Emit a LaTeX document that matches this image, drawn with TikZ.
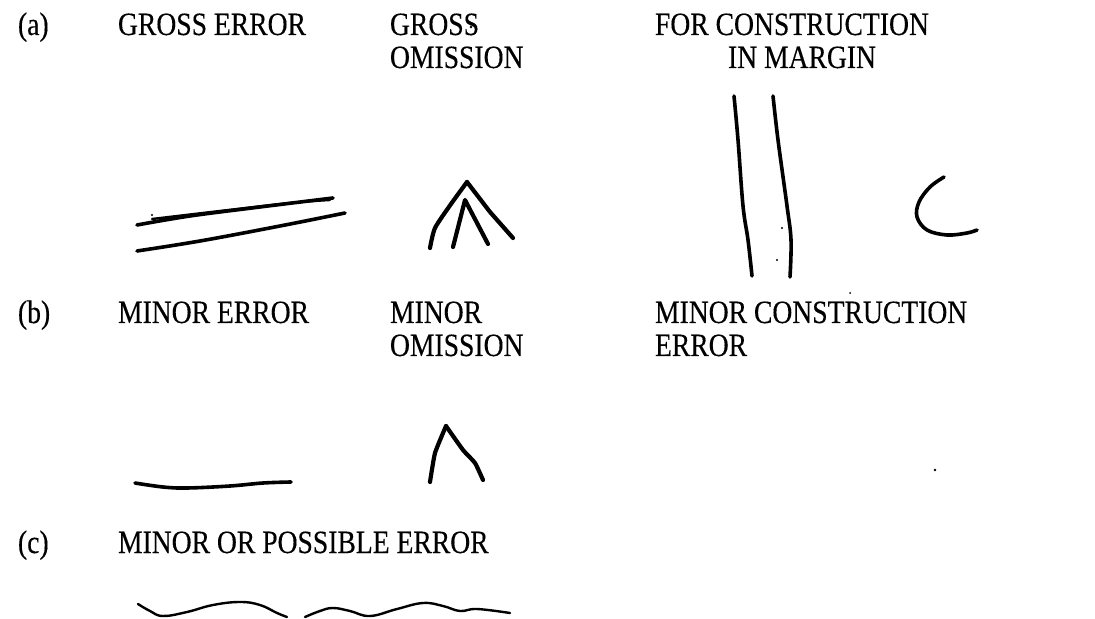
\documentclass[tikz,border=0pt]{standalone}
\usepackage{fontspec}
\setmainfont{Liberation Serif}[FakeStretch=0.85,FakeBold=0.3]
\begin{document}
\begin{tikzpicture}[x=0.5pt,y=-0.5pt,
  lbl/.style={anchor=base west,inner sep=0pt,outer sep=0pt,
    font=\fontsize{16.25pt}{16.5pt}\selectfont},
  pen/.style={line width=1.8pt,line cap=round,line join=round,black},
  heavypen/.style={line width=2.1pt,line cap=round,line join=round,black},
  thinpen/.style={line width=1.2pt,line cap=round,line join=round,black},
  speck/.style={fill=black,draw=none}]
\useasboundingbox[fill=white] (0,0) rectangle (1095,619);

% row (a)
\node[lbl] (la)   at (18,35)  {(a)};
\node[lbl] (ge)   at (118,35) {GROSS ERROR};
\node[lbl] (go1)  at (390,35) {GROSS};
\node[lbl] (go2)  at (390,68) {OMISSION};
\node[lbl] (fc1)  at (655,35) {FOR CONSTRUCTION};
\node[lbl] (fc2)  at (728,68) {IN MARGIN};
\fill[speck] (471,27) circle (1.4);

% row (b)
\node[lbl] (lb)   at (18,323)  {(b)};
\node[lbl] (me)   at (118,323) {MINOR ERROR};
\node[lbl] (mo1)  at (390,323) {MINOR};
\node[lbl] (mo2)  at (390,356) {OMISSION};
\node[lbl] (mc1)  at (655,323) {MINOR CONSTRUCTION};
\node[lbl] (mc2)  at (655,356) {ERROR};

% row (c)
\node[lbl] (lc)   at (18,553)  {(c)};
\node[lbl] (mp)   at (118,553) {MINOR OR POSSIBLE ERROR};

% gross error: double stroke
\draw[pen] plot[smooth,tension=0.6] coordinates {(137,225) (190,216) (260,207) (333,198)};
\draw[thinpen] plot[smooth,tension=0.6] coordinates {(152,219) (220,211) (290,203) (330,200)};
\fill[speck] (152,215) circle (1.2);
\draw[pen] plot[smooth,tension=0.6] coordinates {(137,251) (200,241) (280,226) (345,213)};

% gross omission: double caret
\draw[heavypen] plot[smooth,tension=0.4] coordinates {(430,248) (435,228) (451,204) (467,182)};
\draw[heavypen] (467,182) -- (490,212) -- (513,238);
\draw[heavypen] (453,247) -- (465,200) -- (488,244);

% construction in margin: two vertical strokes
\draw[pen] plot[smooth,tension=0.6] coordinates {(734,96) (738,140) (743,206) (748,240) (752,276)};
\draw[pen] plot[smooth,tension=0.6] coordinates {(773,96) (778,140) (787,206) (791,240) (790,277)};
\fill[speck] (782,228) circle (1.1);
\fill[speck] (777,260) circle (1.1);
\fill[speck] (850,293) circle (1);

% construction mark "C"
\draw[pen] plot[smooth,tension=0.6] coordinates {(944,177) (930,187) (919,202) (917,217) (927,230) (947,235) (967,233) (977,230)};

% minor error: single line
\draw[pen] plot[smooth,tension=0.6] coordinates {(135,483) (163,487) (187,488) (230,486) (263,483) (291,482)};

% minor omission: single caret
\draw[heavypen] plot[smooth,tension=0.3] coordinates {(430,482) (435,453) (446,426)};
\draw[heavypen] plot[smooth,tension=0.3] coordinates {(446,426) (463,450) (475,463) (483,480)};
\fill[speck] (935,470) circle (1.3);

% minor or possible error: wavy underline
\draw[thinpen] plot[smooth,tension=0.7] coordinates {(138,604) (150,611) (163,616) (187,612) (213,605) (240,602) (260,605) (277,613) (287,617)};
\draw[thinpen] plot[smooth,tension=0.7] coordinates {(305,617) (320,611) (333,608) (350,611) (370,616) (397,609) (423,603) (443,606) (460,611) (477,609) (510,613)};
\end{tikzpicture}
\end{document}
